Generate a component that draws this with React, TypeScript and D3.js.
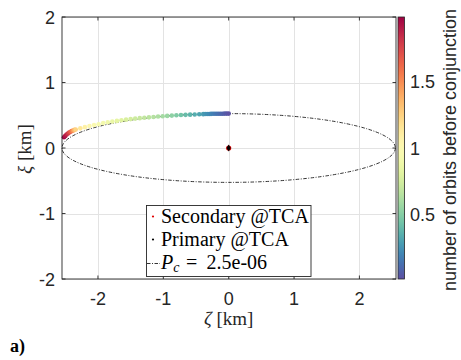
import React, { useEffect, useRef } from "react";
import * as d3 from "d3";

// secondary relative position (km) on the approach
const zeta = [
  -2.52, -2.5, -2.48, -2.46, -2.44, -2.42, -2.4, -2.38, -2.36, -2.34,
  -2.27, -2.2, -2.13, -2.06, -1.99, -1.92, -1.85, -1.78, -1.71, -1.64,
  -1.57, -1.5, -1.43, -1.36, -1.29, -1.22, -1.15, -1.08, -1.01, -0.94,
  -0.87, -0.8, -0.73, -0.66, -0.59, -0.52, -0.45, -0.39, -0.36, -0.33,
  -0.3, -0.27, -0.24, -0.21, -0.18, -0.15, -0.12, -0.09, -0.06, -0.03, 0.0,
];
const xi = [
  0.165, 0.185, 0.205, 0.222, 0.236, 0.248, 0.259, 0.268, 0.276, 0.283,
  0.3, 0.318, 0.336, 0.35, 0.362, 0.38, 0.393, 0.404, 0.414, 0.424,
  0.433, 0.441, 0.449, 0.456, 0.462, 0.468, 0.474, 0.48, 0.485, 0.49,
  0.495, 0.499, 0.503, 0.506, 0.509, 0.512, 0.515, 0.517, 0.518, 0.519,
  0.52, 0.521, 0.522, 0.522, 0.523, 0.523, 0.524, 0.524, 0.525, 0.525, 0.525,
];
// number of orbits before conjunction for each point
const orbits = [
  1.98, 1.93, 1.87, 1.81, 1.74, 1.66, 1.56, 1.45, 1.34, 1.24,
  1.14, 1.08, 1.03, 0.99, 0.95, 0.92, 0.89, 0.86, 0.83, 0.8,
  0.77, 0.75, 0.72, 0.7, 0.68, 0.66, 0.64, 0.62, 0.59, 0.56,
  0.52, 0.48, 0.44, 0.4, 0.37, 0.34, 0.31, 0.28, 0.26, 0.24,
  0.22, 0.2, 0.18, 0.16, 0.14, 0.12, 0.1, 0.08, 0.06, 0.04, 0.02,
];

const xTicks = [-2, -1, 0, 1, 2];
const yTicks = [-2, -1, 0, 1, 2];
const cbTicks = [0.5, 1, 1.5];
const colorDomain = [0.01, 1.99];

// Pc contour ellipse semi-axes (km) and its value
const pcA = 2.55;
const pcB = 0.525;
const pcValue = "2.5e-06";

const W = 461;
const H = 360;
const AXIS = "#262626";
const SANS = "Liberation Sans, Arimo, Helvetica, Arial, sans-serif";
const SERIF = "Liberation Serif, Tinos, Times New Roman, DejaVu Serif, serif";

const App = () => {
  const ref = useRef<SVGSVGElement>(null);

  useEffect(() => {
    const svg = d3.select(ref.current);
    svg.selectAll("*").remove();

    const left = 62;
    const right = 396;
    const top = 17;
    const bottom = 279;

    const x = d3.scaleLinear().domain([-2.55, 2.56]).range([left, right]);
    const y = d3.scaleLinear().domain([-2, 2]).range([bottom, top]);
    const cb = d3.scaleLinear().domain(colorDomain).range([bottom, top]);
    const color = (v) =>
      d3.interpolateSpectral(
        1 - (v - colorDomain[0]) / (colorDomain[1] - colorDomain[0])
      );

    // colorbar gradient
    const grad = svg
      .append("defs")
      .append("linearGradient")
      .attr("id", "cbGrad")
      .attr("x1", 0)
      .attr("y1", 1)
      .attr("x2", 0)
      .attr("y2", 0);
    d3.range(0, 1.0001, 0.02).forEach((t) => {
      grad
        .append("stop")
        .attr("offset", t)
        .attr("stop-color", d3.interpolateSpectral(1 - t));
    });

    // grid
    const grid = svg.append("g").attr("stroke", "#e3e3e3").attr("stroke-width", 1);
    xTicks.forEach((t) => {
      const px = Math.round(x(t)) + 0.5;
      grid.append("line").attr("x1", px).attr("x2", px).attr("y1", top).attr("y2", bottom);
    });
    yTicks.forEach((t) => {
      const py = Math.round(y(t)) + 0.5;
      grid.append("line").attr("x1", left).attr("x2", right).attr("y1", py).attr("y2", py);
    });

    // Pc contour
    svg
      .append("ellipse")
      .attr("cx", x(0))
      .attr("cy", y(0))
      .attr("rx", x(pcA) - x(0))
      .attr("ry", y(0) - y(pcB))
      .attr("fill", "none")
      .attr("stroke", "#000")
      .attr("stroke-width", 0.8)
      .attr("stroke-dasharray", "3.5,1.5,1,1.5");

    // secondary trajectory
    svg
      .append("g")
      .selectAll("circle")
      .data(d3.range(zeta.length))
      .enter()
      .append("circle")
      .attr("cx", (i) => x(zeta[i]))
      .attr("cy", (i) => y(xi[i]))
      .attr("r", 2.3)
      .attr("fill", (i) => color(orbits[i]));

    // objects at TCA
    svg
      .append("circle")
      .attr("cx", x(0))
      .attr("cy", y(0))
      .attr("r", 2.6)
      .attr("fill", "#e00000");
    svg
      .append("path")
      .attr("transform", `translate(${x(0)},${y(0)})`)
      .attr("d", d3.symbol(d3.symbolDiamond, 15)())
      .attr("fill", "#000");

    // axes box + ticks
    svg
      .append("rect")
      .attr("x", left)
      .attr("y", top)
      .attr("width", right - left)
      .attr("height", bottom - top)
      .attr("fill", "none")
      .attr("stroke", AXIS)
      .attr("stroke-width", 0.9);

    const ticks = svg.append("g").attr("stroke", AXIS).attr("stroke-width", 0.9);
    xTicks.forEach((t) => {
      ticks.append("line").attr("x1", x(t)).attr("x2", x(t)).attr("y1", bottom).attr("y2", bottom - 3.5);
      ticks.append("line").attr("x1", x(t)).attr("x2", x(t)).attr("y1", top).attr("y2", top + 3.5);
    });
    yTicks.forEach((t) => {
      ticks.append("line").attr("x1", left).attr("x2", left + 3.5).attr("y1", y(t)).attr("y2", y(t));
      ticks.append("line").attr("x1", right).attr("x2", right - 3.5).attr("y1", y(t)).attr("y2", y(t));
    });

    svg
      .append("g")
      .selectAll("text")
      .data(xTicks)
      .enter()
      .append("text")
      .attr("x", (d) => x(d))
      .attr("y", bottom + 26)
      .attr("text-anchor", "middle")
      .attr("font-family", SANS)
      .attr("font-size", 18)
      .attr("fill", AXIS)
      .text((d) => String(d));

    svg
      .append("g")
      .selectAll("text")
      .data(yTicks)
      .enter()
      .append("text")
      .attr("x", left - 7)
      .attr("y", (d) => y(d) + 6.5)
      .attr("text-anchor", "end")
      .attr("font-family", SANS)
      .attr("font-size", 18)
      .attr("fill", AXIS)
      .text((d) => String(d));

    // axis labels
    const xl = svg
      .append("text")
      .attr("x", x(0))
      .attr("y", 325)
      .attr("text-anchor", "middle")
      .attr("font-family", SERIF)
      .attr("font-size", 19)
      .attr("fill", AXIS);
    xl.append("tspan").attr("font-style", "italic").text("ζ");
    xl.append("tspan").text(" [km]");

    const yl = svg
      .append("text")
      .attr("transform", `translate(31,${y(0) + 1}) rotate(-90)`)
      .attr("text-anchor", "middle")
      .attr("font-family", SERIF)
      .attr("font-size", 19)
      .attr("fill", AXIS);
    yl.append("tspan").attr("font-style", "italic").text("ξ");
    yl.append("tspan").text(" [km]");

    svg
      .append("text")
      .attr("x", 10)
      .attr("y", 352)
      .attr("font-family", SERIF)
      .attr("font-size", 18)
      .attr("font-weight", "bold")
      .text("a)");

    // colorbar
    const cbL = 398;
    const cbW = 6.5;
    svg
      .append("rect")
      .attr("x", cbL)
      .attr("y", top)
      .attr("width", cbW)
      .attr("height", bottom - top)
      .attr("fill", "url(#cbGrad)")
      .attr("stroke", AXIS)
      .attr("stroke-width", 0.8);
    cbTicks.forEach((t) => {
      ticks.append("line").attr("x1", cbL).attr("x2", cbL + 2).attr("y1", cb(t)).attr("y2", cb(t));
      ticks.append("line").attr("x1", cbL + cbW).attr("x2", cbL + cbW - 2).attr("y1", cb(t)).attr("y2", cb(t));
    });
    svg
      .append("g")
      .selectAll("text")
      .data(cbTicks)
      .enter()
      .append("text")
      .attr("x", cbL + 12)
      .attr("y", (d) => cb(d) + 6.5)
      .attr("font-family", SANS)
      .attr("font-size", 18)
      .attr("fill", AXIS)
      .text((d) => String(d));
    svg
      .append("text")
      .attr("transform", `translate(456,${y(0) + 2}) rotate(-90)`)
      .attr("text-anchor", "middle")
      .attr("font-family", SANS)
      .attr("font-size", 18)
      .attr("fill", AXIS)
      .text("number of orbits before conjunction");

    // legend
    const lg = svg.append("g");
    lg.append("rect")
      .attr("x", 146.5)
      .attr("y", 205.5)
      .attr("width", 164.5)
      .attr("height", 71)
      .attr("fill", "#fff")
      .attr("stroke", AXIS)
      .attr("stroke-width", 0.9);
    lg.append("circle").attr("cx", 153).attr("cy", 216.5).attr("r", 1.1).attr("fill", "#e00000");
    lg.append("circle").attr("cx", 153).attr("cy", 239.5).attr("r", 1.1).attr("fill", "#000");
    lg.append("line")
      .attr("x1", 147)
      .attr("x2", 160)
      .attr("y1", 263.5)
      .attr("y2", 263.5)
      .attr("stroke", "#000")
      .attr("stroke-width", 0.8)
      .attr("stroke-dasharray", "3.5,1.5,1,1.5");

    const lt = (yy) =>
      lg
        .append("text")
        .attr("x", 161)
        .attr("y", yy)
        .attr("font-family", SERIF)
        .attr("font-size", 20)
        .attr("fill", "#000");
    lt(222.5).text("Secondary @TCA");
    lt(245.5).text("Primary @TCA");
    const pc = lt(268.5);
    pc.append("tspan").attr("font-style", "italic").text("P");
    pc.append("tspan").attr("font-style", "italic").attr("font-size", 14).attr("dy", 3.5).text("c");
    pc.append("tspan").attr("x", 186).attr("dy", -3.5).text("=");
    pc.append("tspan").attr("x", 206.5).text(pcValue);
  }, []);

  return (
    <svg
      ref={ref}
      width={W}
      height={H}
      style={{ position: "absolute", left: 0, top: 0, background: "#fff", display: "block" }}
    ></svg>
  );
};

export default App;
